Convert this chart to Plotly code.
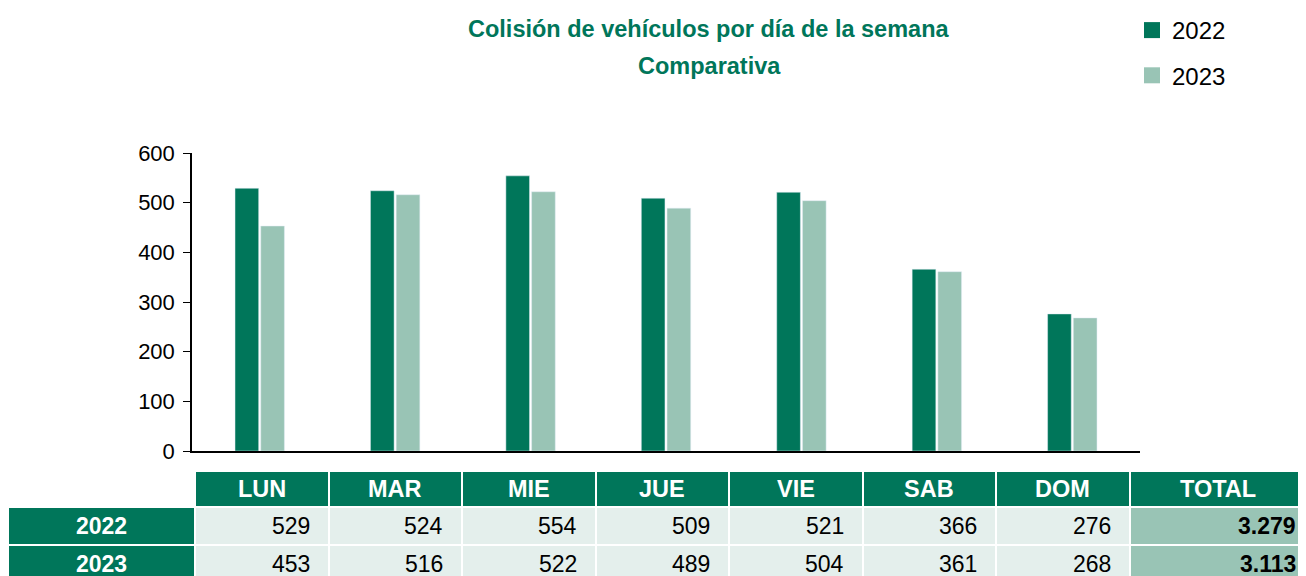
import numpy as np
import plotly.graph_objects as go

days = ["LUN", "MAR", "MIE", "JUE", "VIE", "SAB", "DOM"]
years = ["2022", "2023"]
v2022 = [529, 524, 554, 509, 521, 366, 276]
v2023 = [453, 516, 522, 489, 504, 361, 268]
totals = ["3.279", "3.113"]
yticks = [0, 100, 200, 300, 400, 500, 600]

DARK = "#00765A"
LIGHT = "#99C4B5"
PALE = "#E4EFEC"
FONT = "Liberation Sans, Arial, sans-serif"

W, H = 1306, 576
OFF = 8  # page offset of the figure inside the browser window


def fx(x):
    return (x - OFF) / W


def fy(y):
    return 1 - (y - OFF) / H


fig = go.Figure()
fig.add_trace(go.Bar(x=days, y=v2022, name=years[0], marker_color=DARK, showlegend=False))
fig.add_trace(go.Bar(x=days, y=v2023, name=years[1], marker_color=LIGHT, showlegend=False))
# legend entries (square swatches)
for yr, col, grp in zip(years, [DARK, LIGHT], ["a", "b"]):
    fig.add_trace(go.Scatter(x=[None], y=[None], mode="markers", name=yr, legendgroup=grp,
                             marker=dict(symbol="square", size=17, color=col)))

# ---- data table below the chart (drawn as a heatmap grid on its own axes) ----
col_widths = [187] + [133.5] * 7 + [176.5]
row_heights = [36, 38, 38]
x_edges = list(np.cumsum([OFF] + col_widths))
y_edges = list(np.cumsum([471] + row_heights))
# fill codes: 1 = dark green, 2 = pale, 3 = mid green, None = blank
z = [[None] + [1] * 8,
     [1] + [2] * 7 + [3],
     [1] + [2] * 7 + [3]]
fig.add_trace(go.Heatmap(x=x_edges, y=y_edges, z=z, xaxis="x2", yaxis="y2",
                         colorscale=[[0, DARK], [0.5, PALE], [1, LIGHT]], zmin=1, zmax=3,
                         showscale=False, xgap=2, ygap=2, hoverinfo="skip"))

xc = [(a + b) / 2 for a, b in zip(x_edges[:-1], x_edges[1:])]
yc = [(a + b) / 2 for a, b in zip(y_edges[:-1], y_edges[1:])]
header = days + ["TOTAL"]
for i, h in enumerate(header):
    fig.add_annotation(text="<b>%s</b>" % h, x=xc[i + 1], y=yc[0], xref="x2", yref="y2",
                       showarrow=False, xanchor="center", yanchor="middle",
                       font=dict(family=FONT, size=23.5, color="white"))
for r, (yr, vals, tot) in enumerate(zip(years, [v2022, v2023], totals)):
    yy = yc[r + 1]
    fig.add_annotation(text="<b>%s</b>" % yr, x=xc[0], y=yy, xref="x2", yref="y2",
                       showarrow=False, xanchor="center", yanchor="middle",
                       font=dict(family=FONT, size=23, color="white"))
    for c, v in enumerate(vals):
        fig.add_annotation(text=str(v), x=x_edges[c + 2] - 17, y=yy, xref="x2", yref="y2",
                           showarrow=False, xanchor="right", yanchor="middle",
                           font=dict(family=FONT, size=23, color="black"))
    fig.add_annotation(text="<b>%s</b>" % tot, x=x_edges[-1] - 8, y=yy, xref="x2", yref="y2",
                       showarrow=False, xanchor="right", yanchor="middle",
                       font=dict(family=FONT, size=23, color="black"))

fig.add_annotation(text="<b>Colisión de vehículos por día de la semana</b>", x=fx(709), y=fy(29),
                   xref="paper", yref="paper", showarrow=False, yanchor="middle", xanchor="center",
                   font=dict(family=FONT, size=23.5, color=DARK))
fig.add_annotation(text="<b>Comparativa</b>", x=fx(709), y=fy(66),
                   xref="paper", yref="paper", showarrow=False, yanchor="middle", xanchor="center",
                   font=dict(family=FONT, size=23.5, color=DARK))

fig.update_layout(
    width=W, height=H, margin=dict(l=0, r=0, t=0, b=0, autoexpand=False),
    paper_bgcolor="white", plot_bgcolor="white",
    barmode="group", bargap=0.62, bargroupgap=0.08,
    font=dict(family=FONT, size=22, color="black"),
    showlegend=True,
    legend=dict(x=fx(1132), y=1.0, xanchor="left", yanchor="top",
                font=dict(size=24), tracegroupgap=11, traceorder="grouped",
                bgcolor="rgba(0,0,0,0)", itemwidth=30),
    xaxis=dict(domain=[fx(192), fx(1140)], showticklabels=False, ticks="",
               showline=True, linecolor="black", linewidth=2, showgrid=False, automargin=False),
    yaxis=dict(domain=[fy(451), fy(153)], range=[0, 600], tickvals=yticks,
               ticks="outside", ticklen=7, tickcolor="black", showline=True,
               linecolor="black", linewidth=1.5, showgrid=False, zeroline=False,
               tickfont=dict(size=22), ticklabelstandoff=4, automargin=False),
    xaxis2=dict(domain=[fx(OFF), fx(W + OFF)], range=[OFF, W + OFF], visible=False,
                anchor="y2", automargin=False),
    yaxis2=dict(domain=[0, fy(471)], range=[H + OFF, 471], visible=False,
                anchor="x2", automargin=False),
)
fig.write_html("out.html")
